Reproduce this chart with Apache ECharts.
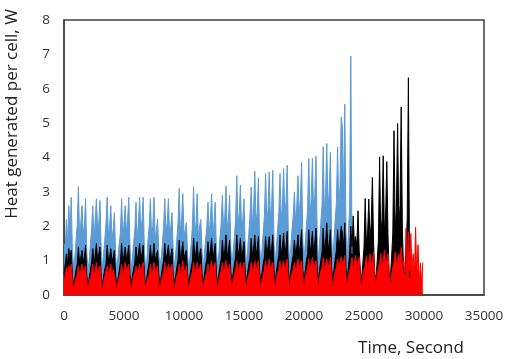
<!DOCTYPE html>
<html>
<head>
<meta charset="utf-8">
<script src="https://cdn.jsdelivr.net/npm/echarts@6/dist/echarts.min.js"></script>
<style>
html,body{margin:0;padding:0;background:#fff;}
#chart{width:515px;height:359px;}
</style>
</head>
<body>
<div id="chart"></div>
<script>
// Sampling interval of the traces (seconds)
var timeStep = 100;

// Axis ticks
var xTicks = [0, 5000, 10000, 15000, 20000, 25000, 30000, 35000];
var yTicks = [0, 1, 2, 3, 4, 5, 6, 7, 8];

// Heat generated per cell (W), blue trace, t = 0 .. 24000 s
var blueHeat = [
  1.5, 1.3, 2.2, 1.5, 2.6, 1.8, 2.85, 1.3,
  0.8, 1.1, 1.6, 2.0, 3.15, 1.7, 2.1, 2.6, 1.8, 2.0, 2.8, 1.2,
  0.75, 1.0, 1.5, 1.9, 2.6, 1.6, 2.2, 2.8, 1.9, 2.1, 2.75, 1.3,
  0.8, 1.2, 1.6, 2.1, 2.85, 1.7, 2.0, 2.6, 1.6, 1.9, 2.4, 1.2,
  0.7, 1.1, 1.5, 1.8, 2.8, 1.6, 2.1, 2.6, 1.8, 2.2, 2.85, 1.4,
  0.8, 1.1, 1.5, 1.9, 2.7, 1.6, 2.1, 2.85, 1.8, 2.2, 2.85, 1.3,
  0.75, 1.0, 1.6, 2.0, 2.8, 1.7, 2.0, 2.85, 1.6, 1.9, 2.2, 1.2,
  0.8, 1.1, 1.5, 2.0, 2.8, 1.8, 2.1, 2.8, 1.7, 2.0, 2.4, 1.3,
  0.8, 1.2, 1.6, 2.1, 3.1, 1.8, 2.2, 2.95, 1.7, 1.9, 2.1, 1.2,
  0.75, 1.1, 1.5, 2.0, 3.15, 1.7, 2.1, 2.95, 1.6, 2.0, 2.2, 1.3,
  0.8, 1.2, 1.6, 2.0, 2.7, 1.8, 2.2, 2.95, 1.8, 2.1, 2.7, 1.3,
  0.85, 1.2, 1.7, 2.1, 2.9, 1.9, 2.3, 3.17, 1.9, 2.2, 2.9, 1.4,
  0.85, 1.3, 1.7, 2.2, 3.47, 2.0, 2.4, 3.2, 1.9, 2.2, 2.8, 1.4,
  0.9, 1.3, 1.8, 2.3, 3.14, 2.0, 2.5, 3.6, 2.1, 2.4, 3.4, 1.5,
  0.9, 1.3, 1.8, 2.3, 3.54, 2.1, 2.5, 3.58, 2.2, 2.6, 3.63, 1.5,
  0.9, 1.4, 1.9, 2.4, 3.54, 2.2, 2.6, 3.68, 2.3, 2.7, 3.78, 1.6,
  0.9, 1.4, 1.9, 2.3, 3.0, 2.1, 2.6, 3.47, 2.3, 2.8, 3.86, 1.6,
  0.95, 1.5, 2.0, 2.5, 3.97, 2.3, 2.8, 3.97, 2.4, 2.9, 4.04, 1.7,
  1.0, 1.5, 2.1, 2.6, 4.31, 2.4, 2.9, 4.41, 2.5, 3.0, 4.15, 1.7,
  1.0, 1.6, 2.2, 2.7, 4.31, 2.5, 3.2, 5.18, 4.9, 2.8, 5.55, 1.8,
  1.0, 1.8, 2.5, 6.95, 1.2
];

// Heat generated per cell (W), black trace, t = 0 .. 28800 s
var blackHeat = [
  0.6, 0.9, 1.2, 0.9, 1.35, 1.0, 1.3, 0.6,
  0.25, 0.5, 0.75, 0.9, 1.4, 0.95, 1.1, 1.3, 1.0, 1.1, 1.45, 0.6,
  0.2, 0.5, 0.7, 0.95, 1.35, 0.9, 1.15, 1.5, 1.0, 1.2, 1.4, 0.55,
  0.25, 0.55, 0.75, 0.9, 1.45, 1.0, 1.1, 1.35, 0.95, 1.1, 1.3, 0.6,
  0.25, 0.5, 0.7, 0.95, 1.5, 1.0, 1.15, 1.4, 1.0, 1.2, 1.45, 0.6,
  0.3, 0.55, 0.75, 0.95, 1.4, 1.0, 1.2, 1.5, 1.05, 1.2, 1.45, 0.65,
  0.25, 0.5, 0.75, 0.95, 1.45, 1.0, 1.15, 1.5, 1.0, 1.15, 1.3, 0.6,
  0.3, 0.55, 0.8, 1.0, 1.5, 1.05, 1.2, 1.45, 1.0, 1.15, 1.35, 0.6,
  0.3, 0.55, 0.8, 1.0, 1.6, 1.05, 1.25, 1.55, 1.05, 1.2, 1.3, 0.6,
  0.3, 0.6, 0.8, 1.0, 1.65, 1.1, 1.25, 1.55, 1.05, 1.2, 1.35, 0.65,
  0.3, 0.6, 0.85, 1.05, 1.55, 1.1, 1.3, 1.65, 1.1, 1.25, 1.5, 0.65,
  0.3, 0.6, 0.85, 1.05, 1.6, 1.1, 1.3, 1.75, 1.1, 1.3, 1.6, 0.7,
  0.35, 0.65, 0.9, 1.1, 1.75, 1.15, 1.3, 1.65, 1.1, 1.3, 1.55, 0.7,
  0.35, 0.65, 0.9, 1.1, 1.65, 1.15, 1.35, 1.75, 1.15, 1.35, 1.7, 0.7,
  0.35, 0.65, 0.9, 1.1, 1.7, 1.2, 1.4, 1.7, 1.2, 1.35, 1.75, 0.75,
  0.35, 0.7, 0.95, 1.15, 1.75, 1.2, 1.4, 1.8, 1.2, 1.4, 1.85, 0.75,
  0.35, 0.7, 0.95, 1.15, 1.6, 1.2, 1.4, 1.75, 1.2, 1.45, 1.9, 0.75,
  0.4, 0.7, 1.0, 1.2, 1.9, 1.25, 1.45, 1.85, 1.25, 1.5, 1.95, 0.8,
  0.4, 0.75, 1.0, 1.25, 1.95, 1.3, 1.5, 2.1, 1.3, 1.5, 1.9, 0.8,
  0.4, 0.75, 1.05, 1.3, 1.9, 1.35, 1.6, 2.0, 1.8, 1.4, 2.1, 0.8,
  0.45, 0.8, 1.2, 2.0, 1.4, 2.3, 1.5, 1.7, 1.4, 2.45, 1.3, 0.7,
  0.45, 0.9, 1.4, 2.81, 1.5, 1.8, 2.79, 1.6, 2.1, 3.42, 1.5, 0.6,
  0.5, 1.0, 1.6, 4.02, 1.7, 2.2, 4.05, 1.8, 2.3, 3.88, 1.7, 0.6,
  0.5, 1.1, 1.8, 4.78, 1.9, 2.5, 4.99, 2.0, 2.6, 5.47, 1.9, 0.7,
  0.6, 1.3, 2.2, 6.32, 0.5
];

// Heat generated per cell (W), red trace, t = 0 .. 29900 s
var redHeat = [
  0.3, 0.6, 0.8, 0.6, 0.85, 0.7, 0.9, 0.4,
  0.1, 0.35, 0.5, 0.6, 0.85, 0.55, 0.7, 0.9, 0.65, 0.75, 0.85, 0.35,
  0.12, 0.4, 0.5, 0.65, 0.9, 0.6, 0.7, 0.95, 0.65, 0.7, 0.85, 0.4,
  0.1, 0.35, 0.55, 0.6, 0.85, 0.6, 0.75, 0.9, 0.6, 0.75, 0.8, 0.35,
  0.12, 0.4, 0.5, 0.65, 0.9, 0.55, 0.7, 0.95, 0.7, 0.75, 0.9, 0.4,
  0.1, 0.35, 0.55, 0.65, 0.85, 0.6, 0.75, 0.9, 0.65, 0.7, 0.95, 0.4,
  0.12, 0.4, 0.5, 0.6, 0.9, 0.6, 0.7, 0.95, 0.65, 0.75, 0.85, 0.35,
  0.1, 0.4, 0.55, 0.65, 0.95, 0.6, 0.75, 0.9, 0.7, 0.75, 0.9, 0.4,
  0.12, 0.35, 0.55, 0.65, 0.9, 0.6, 0.75, 1.0, 0.65, 0.7, 0.85, 0.4,
  0.1, 0.4, 0.55, 0.7, 0.95, 0.65, 0.75, 0.95, 0.7, 0.8, 0.9, 0.4,
  0.12, 0.4, 0.55, 0.65, 0.9, 0.6, 0.8, 1.0, 0.7, 0.75, 0.95, 0.4,
  0.12, 0.4, 0.6, 0.7, 0.95, 0.65, 0.8, 1.0, 0.7, 0.8, 0.9, 0.45,
  0.12, 0.45, 0.6, 0.7, 1.0, 0.65, 0.8, 0.95, 0.7, 0.8, 0.95, 0.4,
  0.15, 0.45, 0.6, 0.7, 0.95, 0.7, 0.8, 1.0, 0.75, 0.85, 1.0, 0.45,
  0.15, 0.45, 0.6, 0.75, 1.0, 0.7, 0.85, 1.05, 0.75, 0.8, 0.95, 0.45,
  0.15, 0.45, 0.65, 0.75, 1.0, 0.7, 0.85, 1.0, 0.75, 0.85, 1.05, 0.45,
  0.15, 0.5, 0.65, 0.75, 0.95, 0.7, 0.85, 1.05, 0.8, 0.85, 1.0, 0.5,
  0.15, 0.5, 0.65, 0.8, 1.05, 0.75, 0.9, 1.1, 0.8, 0.9, 1.0, 0.5,
  0.2, 0.5, 0.7, 0.8, 1.1, 0.75, 0.9, 1.05, 0.8, 0.9, 1.1, 0.5,
  0.2, 0.5, 0.7, 0.8, 1.05, 0.8, 0.95, 1.1, 0.85, 0.9, 1.15, 0.5,
  0.2, 0.55, 0.7, 0.85, 1.1, 0.8, 0.95, 1.15, 0.85, 0.95, 1.1, 0.5,
  0.2, 0.55, 0.75, 0.85, 1.15, 0.8, 0.95, 1.2, 0.85, 1.0, 1.25, 0.55,
  0.25, 0.6, 0.8, 0.9, 1.2, 0.85, 1.0, 1.3, 0.9, 1.0, 1.2, 0.55,
  0.25, 0.6, 0.8, 0.95, 1.25, 0.85, 1.05, 1.2, 0.9, 1.39, 0.8, 1.0,
  0.6, 1.94, 0.9, 1.84, 0.7, 1.79, 0.8, 1.2, 0.6, 1.97, 0.5, 1.46, 0.35, 0.93, 0.3, 0.95
];

var seriesColors = { blue: '#5B9BD5', black: '#000000', red: '#FF0000' };

function toPairs(values) {
  return values.map(function (v, i) { return [i * timeStep, v]; });
}

function traceSeries(name, values, color) {
  return {
    name: name,
    type: 'line',
    data: toPairs(values),
    showSymbol: false,
    symbol: 'none',
    sampling: null,
    lineStyle: { color: color, width: 1 },
    areaStyle: { color: color, opacity: 1 },
    itemStyle: { color: color },
    silent: true
  };
}

var fontFamily = '"Open Sans", "Liberation Sans", sans-serif';

var chart = echarts.init(document.getElementById('chart'), null, { renderer: 'canvas' });
chart.setOption({
  animation: false,
  backgroundColor: '#ffffff',
  grid: {
    left: 64, right: 31, top: 20, bottom: 64,
    show: true, borderColor: '#404040', borderWidth: 1.5,
    containLabel: false,
    outerBoundsMode: 'none'
  },
  xAxis: {
    type: 'value',
    min: xTicks[0], max: xTicks[xTicks.length - 1], interval: xTicks[1] - xTicks[0],
    name: 'Time, Second',
    nameLocation: 'middle',
    nameGap: 45,
    nameTextStyle: { fontFamily: fontFamily, fontSize: 17, color: '#222', padding: [0, 0, 0, 274] },
    axisLine: { show: true, lineStyle: { color: '#404040', width: 1.5 } },
    axisTick: { show: false },
    splitLine: { show: false },
    axisLabel: {
      margin: 14, fontFamily: fontFamily, fontSize: 13.5, color: '#333',
      formatter: function (v) { return String(v); }
    }
  },
  yAxis: {
    type: 'value',
    min: yTicks[0], max: yTicks[yTicks.length - 1], interval: yTicks[1] - yTicks[0],
    name: 'Heat generated per cell, W',
    nameLocation: 'middle',
    nameGap: 43,
    nameTextStyle: { fontFamily: fontFamily, fontSize: 17, color: '#222', padding: [0, 0, 0, 87] },
    axisLine: { show: true, lineStyle: { color: '#404040', width: 1.5 } },
    axisTick: { show: false },
    splitLine: { show: false },
    axisLabel: {
      margin: 14, fontFamily: fontFamily, fontSize: 13.5, color: '#333',
      formatter: function (v) { return String(v); }
    }
  },
  series: [
    traceSeries('Blue', blueHeat, seriesColors.blue),
    traceSeries('Black', blackHeat, seriesColors.black),
    traceSeries('Red', redHeat, seriesColors.red)
  ]
});
</script>
</body>
</html>
